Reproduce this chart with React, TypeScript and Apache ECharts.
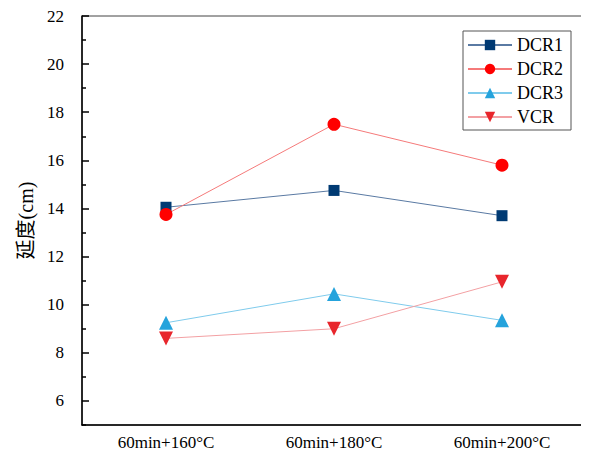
import React, { useEffect, useRef } from "react";
import * as echarts from "echarts";

const categories = ["60min+160°C", "60min+180°C", "60min+200°C"];
const dcr1 = [14.05, 14.75, 13.7];
const dcr2 = [13.75, 17.5, 15.8];
const dcr3 = [9.25, 10.45, 9.35];
const vcr = [8.6, 9.0, 10.95];
const majorYTicks = [6, 8, 10, 12, 14, 16, 18, 20, 22];
const minorYTicks = [5, 7, 9, 11, 13, 15, 17, 19, 21];

const FONT = "Liberation Serif, Times New Roman, serif";
const NAME_FONT = "Liberation Serif, Noto Sans CJK SC, serif";

export default function App() {
  const ref = useRef<HTMLDivElement>(null);
  useEffect(() => {
    if (!ref.current) return;
    const chart = echarts.init(ref.current, undefined, { renderer: "svg" });
    const mk = (
      name: string,
      data: number[],
      lineColor: string,
      markerColor: string,
      symbol: string,
      size: number,
      rotate = 0
    ) => ({
      name,
      type: "line",
      data,
      xAxisIndex: 0,
      yAxisIndex: 0,
      symbol,
      symbolSize: size,
      symbolRotate: rotate,
      showSymbol: true,
      lineStyle: { color: lineColor, width: 1 },
      itemStyle: { color: markerColor, borderWidth: 0 },
      z: 3,
    });
    chart.setOption({
      animation: false,
      backgroundColor: "#fff",
      textStyle: { fontFamily: FONT },
      grid: {
        left: 82,
        right: 3,
        top: 16,
        bottom: 34,
        show: true,
        borderColor: "#444",
        borderWidth: 1,
        backgroundColor: "transparent",
      },
      legend: {
        left: 463,
        top: 31,
        orient: "vertical",
        itemWidth: 44,
        itemHeight: 13,
        itemGap: 6,
        padding: [5, 8, 4, 4],
        borderColor: "#555",
        borderWidth: 1,
        textStyle: { fontFamily: FONT, fontSize: 18, color: "#000" },
        data: ["DCR1", "DCR2", "DCR3", "VCR"],
      },
      xAxis: [
        {
          type: "category",
          data: categories,
          boundaryGap: true,
          position: "bottom",
          axisLine: { lineStyle: { color: "#000", width: 1.5 } },
          axisTick: { inside: true, alignWithLabel: true, length: 7, lineStyle: { color: "#000", width: 1.5 } },
          axisLabel: { fontFamily: FONT, fontSize: 17, color: "#000", margin: 9 },
          splitLine: { show: false },
        },
        {
          type: "category",
          data: categories,
          boundaryGap: true,
          position: "bottom",
          axisLine: { show: false },
          axisTick: { inside: true, alignWithLabel: false, length: 3, lineStyle: { color: "#000", width: 1.5 } },
          axisLabel: { show: false },
          splitLine: { show: false },
        },
      ],
      yAxis: [
        {
          type: "value",
          min: 5,
          max: 22,
          position: "left",
          name: "延度(cm)",
          nameLocation: "middle",
          nameGap: 46,
          nameTextStyle: { fontFamily: NAME_FONT, fontSize: 20, color: "#000" },
          axisLine: { show: true, lineStyle: { color: "#000", width: 1.5 } },
          axisTick: { show: true, inside: true, length: 7, customValues: majorYTicks, lineStyle: { color: "#000", width: 1.5 } },
          axisLabel: { fontFamily: FONT, fontSize: 17, color: "#000", margin: 18, customValues: majorYTicks },
          splitLine: { show: false },
        },
        {
          type: "value",
          min: 5,
          max: 22,
          position: "left",
          axisLine: { show: false },
          axisTick: { show: true, inside: true, length: 4, customValues: minorYTicks, lineStyle: { color: "#000", width: 1.5 } },
          axisLabel: { show: false, customValues: minorYTicks },
          splitLine: { show: false },
        },
      ],
      series: [
        mk("DCR1", dcr1, "#5a7aa3", "#003a73", "rect", 11),
        mk("DCR2", dcr2, "#f57a7a", "#ff0000", "circle", 13),
        mk("DCR3", dcr3, "#7fcbec", "#25a3dc", "triangle", 14),
        mk("VCR", vcr, "#f3a0a3", "#e8262c", "triangle", 14, 180),
      ],
    });
    return () => chart.dispose();
  }, []);
  return <div ref={ref} style={{ width: 589, height: 459, margin: -8 }} />;
}
